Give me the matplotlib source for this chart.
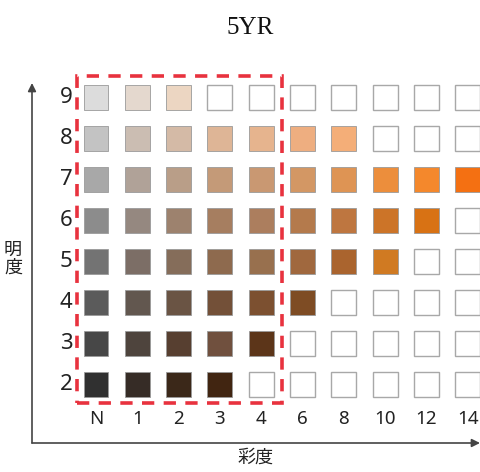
import matplotlib
matplotlib.use("Agg")
import matplotlib.pyplot as plt
from matplotlib.patches import Rectangle

plt.rcParams['font.family'] = ['Noto Sans CJK JP', 'DejaVu Sans']

title = "5YR"
chroma_labels = ["N", "1", "2", "3", "4", "6", "8", "10", "12", "14"]
value_labels = [2, 3, 4, 5, 6, 7, 8, 9]
x_title = "彩度"
y_title = "明度"

# colours per value row, one entry per chroma column (None = empty slot)
row_9 = ["#dcdcdc", "#e4d8ce", "#ecd6c2", None, None, None, None, None, None, None]
row_8 = ["#c3c3c3", "#cbbdb2", "#d4baa6", "#deb596", "#e6b48e", "#eeae80", "#f4ae78", None, None, None]
row_7 = ["#a8a8a8", "#b0a298", "#b99e88", "#c49a78", "#c99872", "#d39764", "#de9454", "#ec8e3c", "#f4882c", "#f47012"]
row_6 = ["#8c8c8c", "#958880", "#9d826e", "#a67e60", "#ac7e5e", "#b47a4c", "#be7640", "#cc7428", "#d87214", None]
row_5 = ["#737373", "#7c6e66", "#856d5a", "#8e6a4e", "#98704e", "#a0683e", "#aa642e", "#d07a22", None, None]
row_4 = ["#5b5b5b", "#62574f", "#6a5444", "#735038", "#7c5030", "#7e4c24", None, None, None, None]
row_3 = ["#474747", "#4e443d", "#573f30", "#70503e", "#5c3519", None, None, None, None, None]
row_2 = ["#303030", "#362c26", "#3b2819", "#412511", None, None, None, None, None, None]
rows = [row_2, row_3, row_4, row_5, row_6, row_7, row_8, row_9]

fig = plt.figure(figsize=(4.81, 4.72), dpi=100)
ax = fig.add_axes([32 / 481, 29 / 472, 448 / 481, 360 / 472])
ax.set_xlim(-1.55, 9.3)
ax.set_ylim(0.56, 9.35)
ax.axis("off")

w, h = 0.605, 0.61
for v, row in zip(value_labels, rows):
    for i, c in enumerate(row):
        if c is None:
            ax.add_patch(Rectangle((i - w / 2, v - h / 2), w, h, facecolor="white",
                                   edgecolor="#a8a8a8", lw=1.0))
        else:
            ax.add_patch(Rectangle((i - w / 2, v - h / 2), w, h, facecolor=c,
                                   edgecolor="#9a9a9a", lw=0.6))

for i, lab in enumerate(chroma_labels):
    ax.text(i, 1.15, lab, ha="center", va="center", fontsize=13.5, color="#222222",
            family=["Noto Sans", "DejaVu Sans"])
for v in value_labels:
    ax.text(-0.57, v, str(v), ha="right", va="center", fontsize=16, color="#222222",
            family=["Noto Sans", "DejaVu Sans"])

# dashed box around chroma N-4
ax.add_patch(Rectangle((-0.46, 1.54), 4.96, 7.97, fill=False, edgecolor="#e8323e",
                       lw=2.6, ls=(0, (3.4, 2.6)), clip_on=False))

# axis arrows
ax.annotate("", xy=(-1.55, 9.35), xytext=(-1.55, 0.56),
            arrowprops=dict(arrowstyle="-|>", color="#444444", lw=1.2,
                            mutation_scale=12, shrinkA=0, shrinkB=0),
            annotation_clip=False)
ax.annotate("", xy=(9.3, 0.56), xytext=(-1.55, 0.56),
            arrowprops=dict(arrowstyle="-|>", color="#444444", lw=1.2,
                            mutation_scale=12, shrinkA=0, shrinkB=0),
            annotation_clip=False)

fig.text(256 / 481, 1 - 458 / 472, x_title, ha="center", va="center", fontsize=13,
         color="#222222")
fig.text(13 / 481, 1 - 259 / 472, "\n".join(y_title), ha="center", va="center",
         fontsize=13, color="#222222", linespacing=1.0)
fig.text(250 / 481, 1 - 28 / 472, title, ha="center", va="center", fontsize=18,
         family="Liberation Serif", color="#111111")

fig.savefig("out.png", dpi=100)
